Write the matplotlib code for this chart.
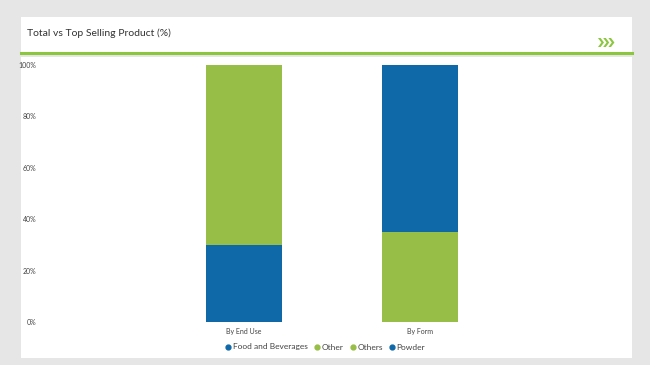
import matplotlib.pyplot as plt
from matplotlib.patches import Rectangle, Polygon

# data
categories = ['By End Use', 'By Form']
bottom_vals = [30, 35]   # Food and Beverages, Others
top_vals = [70, 65]      # Other, Powder
y_ticks = [0, 20, 40, 60, 80, 100]

blue = '#0f69a8'
green = '#97be46'
W, H = 650, 365

plt.rcParams['font.family'] = ['Lato', 'DejaVu Sans']
fig = plt.figure(figsize=(6.5, 3.65), dpi=100)
fig.patch.set_facecolor('#e6e6e6')

# white panels
fig.patches.append(Rectangle((21/W, 1-55/H), 611/W, 38/H, transform=fig.transFigure,
                             facecolor='white', edgecolor='none', zorder=-5))
fig.patches.append(Rectangle((21/W, 1-358/H), 611/W, 301/H, transform=fig.transFigure,
                             facecolor='white', edgecolor='none', zorder=-5))
# green rule under the header
fig.add_artist(plt.Line2D([21/W, 632/W], [1-52.5/H, 1-52.5/H], color='#8cc63f', lw=2.2))
fig.text(27/W, 1-33/H, 'Total vs Top Selling Product (%)', fontsize=7.5, color='#333333', va='center')

# chevrons ">>>" in the header (pixel outline converted to figure coords)
for k in range(3):
    x0 = 598 + k * 5.2
    pts = [(x0, 38), (x0 + 2.6, 38), (x0 + 6, 42.5), (x0 + 2.6, 47), (x0, 47), (x0 + 3.4, 42.5)]
    fig.patches.append(Polygon([(px / W, 1 - py / H) for px, py in pts], closed=True,
                               transform=fig.transFigure, facecolor='#8cc63f', edgecolor='none'))

ax = fig.add_axes([60/W, 1-322/H, 550/W, 257/H])
ax.set_facecolor('none')
x = [0, 1]
ax.bar(x, bottom_vals, width=0.43, color=[blue, green])
ax.bar(x, top_vals, width=0.43, bottom=bottom_vals, color=[green, blue])
ax.set_xlim(-1.045, 2.08)
ax.set_ylim(0, 100)
ax.set_yticks(y_ticks)
ax.set_yticklabels([f'{v}%' for v in y_ticks])
ax.set_xticks(x)
ax.set_xticklabels(categories)
ax.tick_params(axis='y', length=0, pad=17, labelsize=5, labelcolor='#444444')
ax.tick_params(axis='x', length=0, pad=4, labelsize=5, labelcolor='#444444')
for s in ax.spines.values():
    s.set_visible(False)

# legend
labels = ['Food and Beverages', 'Other', 'Others', 'Powder']
colors = [blue, green, green, blue]
handles = [plt.Line2D([], [], marker='o', ls='', color=c, markersize=3.5) for c in colors]
fig.legend(handles, labels, loc='center', bbox_to_anchor=(325/W, 1-347/H), ncol=4, frameon=False,
           fontsize=6, handletextpad=0.15, columnspacing=0.7, handlelength=0.8,
           labelcolor='#444444')

fig.savefig('out.png', dpi=100, facecolor=fig.get_facecolor())
